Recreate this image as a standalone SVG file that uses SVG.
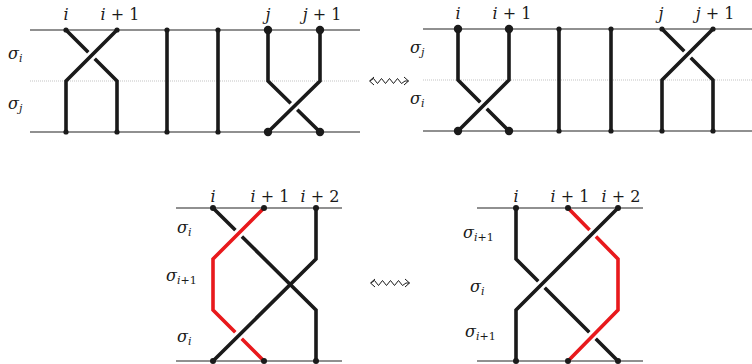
<svg xmlns="http://www.w3.org/2000/svg" width="752" height="364" viewBox="0 0 752 364">
<style>
.hl{stroke:#222;stroke-width:1.1;fill:none}
.ml{stroke:#aaa;stroke-width:0.7;stroke-dasharray:1 1;fill:none}
.s{stroke:#1a1a1a;stroke-width:3.6;fill:none;stroke-linejoin:miter}
.r{stroke:#e8191c;stroke-width:3.6;fill:none;stroke-linejoin:miter}
.h{stroke:#fff;stroke-width:9;fill:none}
.d{fill:#1a1a1a}
.sq{stroke:#1a1a1a;stroke-width:1;fill:none;stroke-linejoin:round}
.t{font-family:"DejaVu Serif",serif;font-size:16px;fill:#1a1a1a}
.c{text-anchor:middle}
.it{font-style:italic}
.sb{font-size:11px}
</style>
<g id="panel-top-left">
<line class="hl" x1="30" y1="30" x2="360" y2="30"/>
<line class="ml" x1="30" y1="81" x2="360" y2="81"/>
<line class="hl" x1="30" y1="132" x2="360" y2="132"/>
<path class="s" d="M66,30 L117,81 V132"/>
<path class="h" d="M96,51 L87,60"/>
<path class="s" d="M117,30 L66,81 V132"/>
<path class="s" d="M167,30 V132"/>
<path class="s" d="M218,30 V132"/>
<path class="s" d="M268,30 V81 L320,132"/>
<path class="h" d="M298.5,102 L289.5,111"/>
<path class="s" d="M320,30 V81 L268,132"/>
<g class="d">
<circle cx="66" cy="30" r="2.6"/><circle cx="117" cy="30" r="2.6"/><circle cx="66" cy="132" r="2.6"/><circle cx="117" cy="132" r="2.6"/>
<circle cx="167" cy="30" r="2.6"/><circle cx="167" cy="132" r="2.6"/><circle cx="218" cy="30" r="2.6"/><circle cx="218" cy="132" r="2.6"/>
<circle cx="268" cy="30" r="4.2"/><circle cx="320" cy="30" r="4.2"/><circle cx="268" cy="132" r="4.2"/><circle cx="320" cy="132" r="4.2"/>
</g>
<text class="t c it" x="66" y="20">i</text>
<text class="t c" x="120" y="20"><tspan class="it">i</tspan> + 1</text>
<text class="t c it" x="268" y="20">j</text>
<text class="t c" x="322" y="20"><tspan class="it">j</tspan> + 1</text>
<text class="t" x="8" y="59"><tspan class="it">σ</tspan><tspan class="sb it" dy="3">i</tspan></text>
<text class="t" x="8" y="109"><tspan class="it">σ</tspan><tspan class="sb it" dy="3">j</tspan></text>
</g>
<g id="panel-top-right">
<line class="hl" x1="423" y1="29" x2="752" y2="29"/>
<line class="ml" x1="423" y1="80" x2="752" y2="80"/>
<line class="hl" x1="423" y1="131" x2="752" y2="131"/>
<path class="s" d="M458,29 V80 L509,131"/>
<path class="h" d="M488,101 L479,110"/>
<path class="s" d="M509,29 V80 L458,131"/>
<path class="s" d="M559,29 V131"/>
<path class="s" d="M611,29 V131"/>
<path class="s" d="M662,29 L713,80 V131"/>
<path class="h" d="M692,50 L683,59"/>
<path class="s" d="M713,29 L662,80 V131"/>
<g class="d">
<circle cx="458" cy="29" r="4.2"/><circle cx="509" cy="29" r="4.2"/><circle cx="458" cy="131" r="4.2"/><circle cx="509" cy="131" r="4.2"/>
<circle cx="559" cy="29" r="2.6"/><circle cx="559" cy="131" r="2.6"/><circle cx="611" cy="29" r="2.6"/><circle cx="611" cy="131" r="2.6"/>
<circle cx="662" cy="29" r="2.6"/><circle cx="713" cy="29" r="2.6"/><circle cx="662" cy="131" r="2.6"/><circle cx="713" cy="131" r="2.6"/>
</g>
<text class="t c it" x="458" y="19">i</text>
<text class="t c" x="512" y="19"><tspan class="it">i</tspan> + 1</text>
<text class="t c it" x="661" y="19">j</text>
<text class="t c" x="715" y="19"><tspan class="it">j</tspan> + 1</text>
<text class="t" x="410" y="53"><tspan class="it">σ</tspan><tspan class="sb it" dy="3">j</tspan></text>
<text class="t" x="410" y="104"><tspan class="it">σ</tspan><tspan class="sb it" dy="3">i</tspan></text>
</g>
<g id="panel-bottom-left">
<line class="hl" x1="176" y1="208" x2="342" y2="208"/>
<line class="hl" x1="176" y1="361" x2="342" y2="361"/>
<path class="s" d="M213,208 L316,310 V361"/>
<path class="h" d="M243,229 L234,238"/>
<path class="r" d="M264,208 L213,259 V310 L264,361"/>
<path class="h" d="M269,280 L260,289"/>
<path class="h" d="M243,331 L234,340"/>
<path class="s" d="M316,208 V259 L213,361"/>
<g class="d">
<circle cx="213" cy="208" r="3"/><circle cx="264" cy="208" r="3"/><circle cx="316" cy="208" r="3"/>
<circle cx="213" cy="361" r="3"/><circle cx="264" cy="361" r="3"/><circle cx="316" cy="361" r="3"/>
</g>
<text class="t c it" x="213" y="202">i</text>
<text class="t c" x="270" y="202"><tspan class="it">i</tspan> + 1</text>
<text class="t c" x="320" y="202"><tspan class="it">i</tspan> + 2</text>
<text class="t" x="177" y="233"><tspan class="it">σ</tspan><tspan class="sb it" dy="3">i</tspan></text>
<text class="t" x="166" y="281"><tspan class="it">σ</tspan><tspan class="sb" dy="3"><tspan class="it">i</tspan>+1</tspan></text>
<text class="t" x="177" y="342"><tspan class="it">σ</tspan><tspan class="sb it" dy="3">i</tspan></text>
</g>
<g id="panel-bottom-right">
<line class="hl" x1="477" y1="208" x2="643" y2="208"/>
<line class="hl" x1="477" y1="361" x2="643" y2="361"/>
<path class="s" d="M516,208 V259 L618,361"/>
<path class="h" d="M597,331 L588,340"/>
<path class="r" d="M568,208 L618,259 V310 L568,361"/>
<path class="h" d="M597.5,228.5 L588.5,237.5"/>
<path class="h" d="M546,280 L537,289"/>
<path class="s" d="M618,208 L516,310 V361"/>
<g class="d">
<circle cx="516" cy="208" r="3"/><circle cx="568" cy="208" r="3"/><circle cx="618" cy="208" r="3"/>
<circle cx="516" cy="361" r="3"/><circle cx="568" cy="361" r="3"/><circle cx="618" cy="361" r="3"/>
</g>
<text class="t c it" x="516" y="202">i</text>
<text class="t c" x="570" y="202"><tspan class="it">i</tspan> + 1</text>
<text class="t c" x="621" y="202"><tspan class="it">i</tspan> + 2</text>
<text class="t" x="463" y="238"><tspan class="it">σ</tspan><tspan class="sb" dy="3"><tspan class="it">i</tspan>+1</tspan></text>
<text class="t" x="470" y="292"><tspan class="it">σ</tspan><tspan class="sb it" dy="3">i</tspan></text>
<text class="t" x="465" y="337"><tspan class="it">σ</tspan><tspan class="sb" dy="3"><tspan class="it">i</tspan>+1</tspan></text>
</g>
<g id="connectors">
<path class="sq" d="M374,77 L369.5,81 L374,85 M370,81 L373.5,78.5 L377.5,83.5 L381.5,78.5 L385.5,83.5 L389.5,78.5 L393.5,83.5 L397.5,78.5 L401.5,83.5 L405,81 L408.5,81 M404,77 L408.5,81 L404,85"/>
<path class="sq" d="M375,279 L370.5,283 L375,287 M371,283 L374.5,280.5 L378.5,285.5 L382.5,280.5 L386.5,285.5 L390.5,280.5 L394.5,285.5 L398.5,280.5 L402.5,285.5 L406,283 L409.5,283 M405,279 L409.5,283 L405,287"/>
</g>
</svg>
